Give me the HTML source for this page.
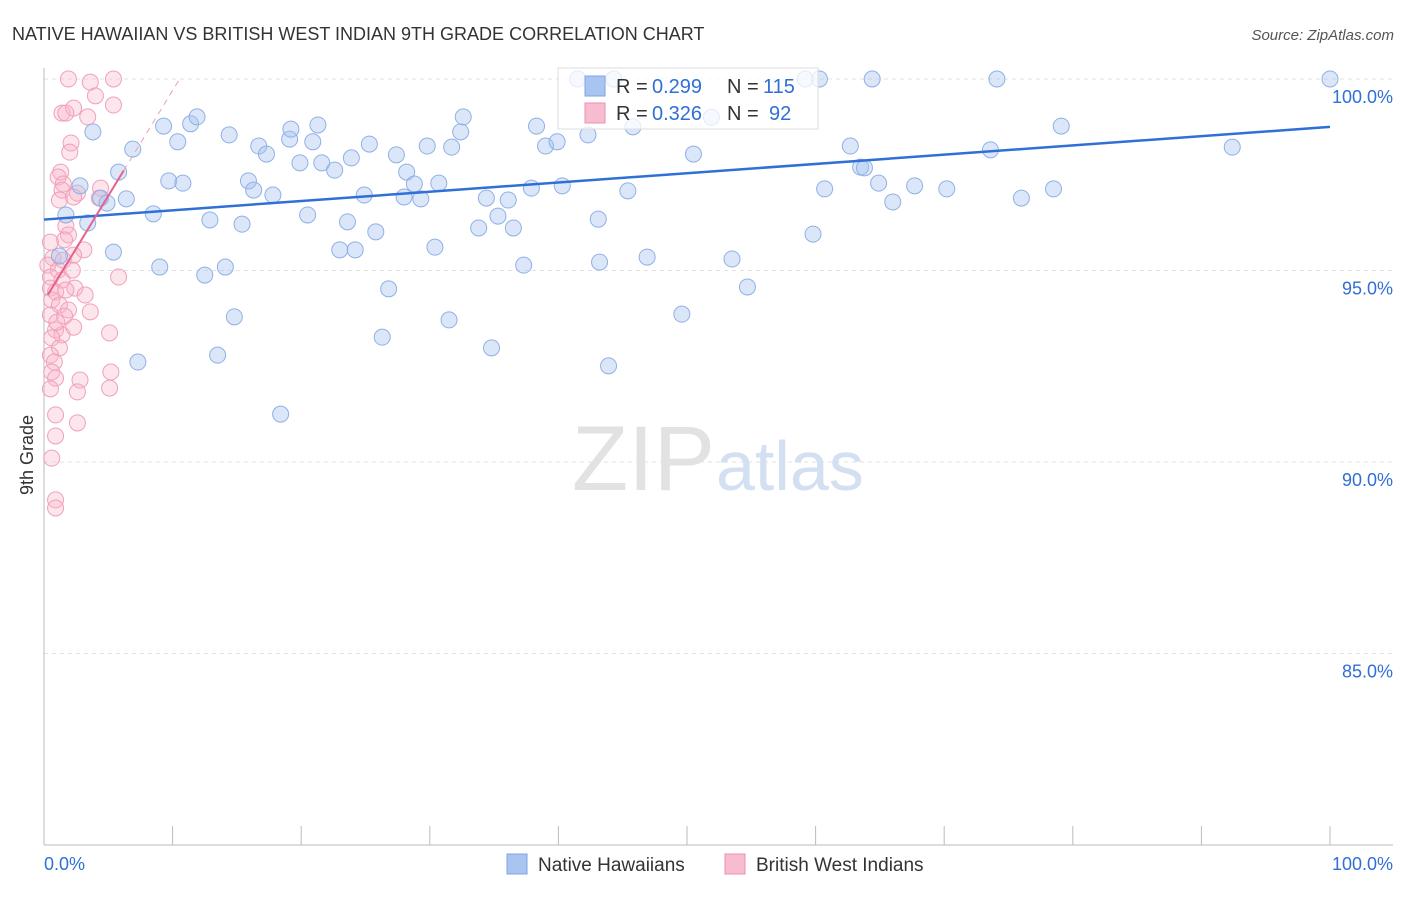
<!DOCTYPE html>
<html><head><meta charset="utf-8">
<style>
body{margin:0;background:#fff;font-family:"Liberation Sans",sans-serif;}
svg text{font-family:"Liberation Sans",sans-serif;}
</style></head>
<body>
<svg id="chart" width="1406" height="892">
<text x="12" y="40" font-size="18" fill="#333">NATIVE HAWAIIAN VS BRITISH WEST INDIAN 9TH GRADE CORRELATION CHART</text>
<text x="1394" y="40" font-size="15" fill="#555" text-anchor="end" font-style="italic">Source: ZipAtlas.com</text>
<text x="33" y="455" font-size="18" fill="#333" text-anchor="middle" transform="rotate(-90 33 455)">9th Grade</text>
<g id="grid"></g>
<text x="715" y="490" font-size="92" fill="#e2e2e2" text-anchor="end" font-family="Liberation Serif">ZIP</text>
<text x="716" y="490" font-size="70" fill="#d3e0f2">atlas</text>
<g id="pts"></g>
<g id="lines"></g>
<g>
<rect x="558" y="68" width="260" height="61" fill="rgba(255,255,255,0.75)" stroke="#ddd"/>
<rect x="585" y="76" width="20" height="20" fill="#a9c4f0" stroke="#7fa6e6"/>
<text x="616" y="93" font-size="20" fill="#333">R =</text>
<text x="652" y="93" font-size="20" fill="#2f6fd6">0.299</text>
<text x="727" y="93" font-size="20" fill="#333">N =</text>
<text x="763" y="93" font-size="20" fill="#2f6fd6">115</text>
<rect x="585" y="103" width="20" height="20" fill="#f8bcd0" stroke="#ee8fb0"/>
<text x="616" y="120" font-size="20" fill="#333">R =</text>
<text x="652" y="120" font-size="20" fill="#2f6fd6">0.326</text>
<text x="727" y="120" font-size="20" fill="#333">N =</text>
<text x="769" y="120" font-size="20" fill="#2f6fd6">92</text>
</g>
<g>
<rect x="507" y="854" width="20" height="20" fill="#a9c4f0" stroke="#7fa6e6"/>
<text x="538" y="871" font-size="19" fill="#333">Native Hawaiians</text>
<rect x="725" y="854" width="20" height="20" fill="#f8bcd0" stroke="#ee8fb0"/>
<text x="756" y="871" font-size="19" fill="#333">British West Indians</text>
</g>
</svg>
<script>
const yTicks=[100,95,90,85];
const xTickLabels=["0.0%","100.0%"];
const blueX=[3.8,6.9,9.3,10.4,11.4,11.9,14.4,16.7,17.3,19.1,19.2,21.3,20.9,25.3,27.4,29.8,31.7,32.4,32.6,38.3,39.0,39.9,42.3,45.8,50.5,62.7,79.1,92.4,73.6,5.8,4.4,4.9,6.4,2.8,1.7,3.4,8.5,9.7,10.8,15.9,16.3,17.8,19.9,21.6,22.6,23.9,24.9,28.2,28.8,28.0,29.3,30.7,34.4,35.3,36.1,37.9,40.3,45.4,63.5,63.8,64.9,66.0,67.7,70.2,76.0,78.5,60.7,1.2,5.4,12.9,15.4,20.5,23.6,25.8,30.4,33.8,36.5,43.1,59.8,9.0,12.5,14.1,23.0,24.2,37.3,43.2,46.9,53.5,54.7,26.8,14.8,31.5,26.3,34.8,49.6,13.5,7.3,43.9,18.4,41.5,44.3,59.2,60.3,64.4,74.1,100,51.9];
const blueY=[98.62,98.17,98.77,98.36,98.83,99.01,98.54,98.25,98.04,98.43,98.69,98.80,98.36,98.30,98.02,98.25,98.22,98.62,99.01,98.77,98.25,98.36,98.54,98.75,98.04,98.25,98.77,98.22,98.15,97.57,96.89,96.76,96.87,97.21,96.45,96.24,96.48,97.34,97.28,97.34,97.10,96.97,97.81,97.81,97.62,97.94,96.97,97.57,97.26,96.92,96.87,97.28,96.89,96.42,96.84,97.15,97.21,97.08,97.70,97.68,97.28,96.79,97.21,97.13,96.89,97.13,97.13,95.38,95.48,96.32,96.21,96.45,96.27,96.01,95.61,96.11,96.11,96.34,95.95,95.09,94.88,95.09,95.54,95.54,95.14,95.22,95.35,95.30,94.57,94.52,93.79,93.71,93.26,92.98,93.86,92.79,92.61,92.51,91.25,100,100,100,100,100,100,100,99.0];
const pinkX=[1.9,3.6,5.4,4.0,5.4,1.4,2.3,1.7,3.4,2.1,2.0,1.3,1.1,1.5,1.4,4.4,2.6,1.2,2.3,4.3,1.7,1.9,1.6,3.1,0.7,2.3,0.3,1.1,2.2,5.8,0.5,1.4,2.4,0.5,0.9,1.7,3.2,0.6,1.2,1.9,3.6,0.5,1.6,2.3,0.9,1.4,0.6,5.1,1.2,0.5,0.8,0.6,0.9,2.8,5.2,5.1,2.6,0.5,0.9,2.6,0.9,0.6,0.9,0.9,0.5,1.5,1.0];
const pinkY=[100,99.92,100,99.56,99.32,99.11,99.24,99.11,99.01,98.33,98.09,97.57,97.44,97.26,97.10,97.15,97.02,96.84,96.92,96.89,96.16,95.93,95.80,95.54,95.33,95.40,95.14,95.01,95.01,94.83,94.83,94.75,94.54,94.54,94.44,94.49,94.36,94.23,94.10,93.97,93.92,93.84,93.81,93.52,93.45,93.32,93.24,93.37,92.98,92.79,92.61,92.35,92.19,92.14,92.35,91.93,91.83,91.91,91.23,91.02,90.68,90.10,89.01,88.80,95.74,95.27,93.65];
const blueTrend=[96.33,98.75];
const pinkTrend=[94.2,0.55];
const NS="http://www.w3.org/2000/svg";
const X=v=>44+v*12.86, Y=v=>79+(100-v)*38.3;
function mk(t,a,p){const e=document.createElementNS(NS,t);for(const k in a)e.setAttribute(k,a[k]);p.appendChild(e);return e;}
const grid=document.getElementById('grid');
yTicks.forEach(t=>{
 const l=mk('line',{x1:44,x2:1393,y1:Y(t),y2:Y(t),stroke:'#e2e2e2','stroke-dasharray':'4,4'},grid);
 
 
 const tx=mk('text',{x:1393,y:Y(t)+24,'font-size':18,fill:'#2f6fd6','text-anchor':'end'},grid);
 tx.textContent=t.toFixed(1)+'%';
 
 
});
const ax=mk('line',{x1:44,x2:44,y1:68,y2:845,stroke:'#bbb'},grid);


const bx=mk('line',{x1:44,x2:1393,y1:845,y2:845,stroke:'#bbb'},grid);


for(let i=0;i<=10;i++){const t=mk('line',{x1:X(i*10),x2:X(i*10),y1:826,y2:845,stroke:'#bbb'},grid);
 
 }
[[0,'start',44],[1,'end',1393]].forEach(([i,a,x])=>{const t=mk('text',{x:x,y:870,'font-size':18,fill:'#2f6fd6','text-anchor':a},grid);t.textContent=xTickLabels[i];
 
 });
const pts=document.getElementById('pts');
pinkX.forEach((v,i)=>{const c=mk('circle',{cx:X(v),cy:Y(pinkY[i]),r:8,fill:'rgba(248,180,200,0.35)',stroke:'#f0a0bc','stroke-width':1},pts);
 
 });
blueX.forEach((v,i)=>{const c=mk('circle',{cx:X(v),cy:Y(blueY[i]),r:8,fill:'rgba(164,194,240,0.4)',stroke:'#8fb0e6','stroke-width':1},pts);
 
 });
const lines=document.getElementById('lines');
const bl=mk('line',{x1:X(0),y1:Y(blueTrend[0]),x2:X(100),y2:Y(blueTrend[1]),stroke:'#2f6fd6','stroke-width':2.5},lines);


const pf=x=>pinkTrend[0]+pinkTrend[1]*x;
const pl=mk('line',{x1:X(0.3),y1:Y(pf(0.3)),x2:X(6.2),y2:Y(pf(6.2)),stroke:'#e8608c','stroke-width':2},lines);


const pd=mk('line',{x1:X(6.2),y1:Y(pf(6.2)),x2:X(10.5),y2:Y(pf(10.5)),stroke:'#e8a0b8','stroke-width':1,'stroke-dasharray':'6,5'},lines);


</script>
</body></html>
